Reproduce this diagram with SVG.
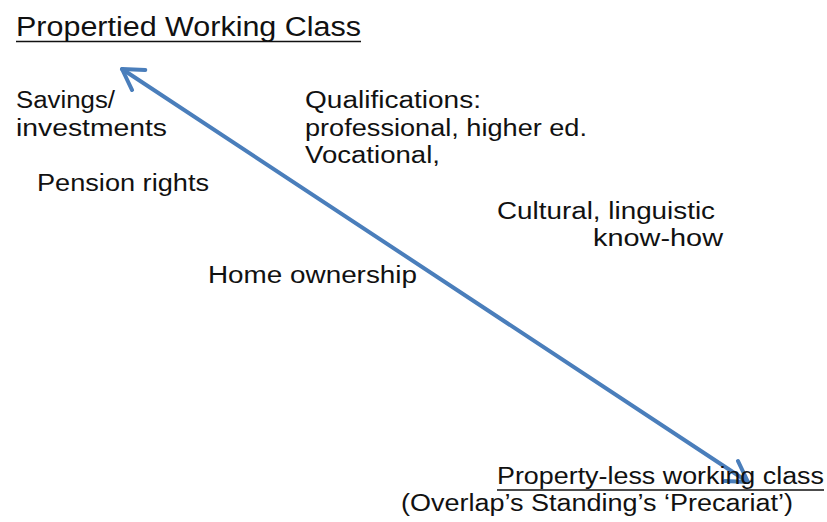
<svg xmlns="http://www.w3.org/2000/svg" width="827" height="522" viewBox="0 0 827 522">
  <style>
    .t { font-family: "Liberation Sans", "Open Sans", sans-serif; font-size: 23.5px; fill: #111; }
    .h { font-size: 27px; }
    .ul { stroke: #111; stroke-width: 1.6; }
    .arrow { stroke: #4a7ebb; stroke-width: 4; fill: none; stroke-linecap: round; }
  </style>
  <defs>
    <marker id="head" viewBox="0 0 12 12" refX="10.5" refY="6" markerWidth="7.5" markerHeight="7.5" orient="auto-start-reverse" markerUnits="strokeWidth">
      <path d="M2.5,1.2 L10.5,6 L2.5,10.8" fill="none" stroke="#4a7ebb" stroke-width="1.6" stroke-linecap="round" stroke-linejoin="round"/>
    </marker>
  </defs>
  <rect width="827" height="522" fill="#ffffff"/>

  <g id="connectors">
    <line class="arrow" x1="122" y1="69" x2="748" y2="482" marker-start="url(#head)" marker-end="url(#head)"/>
  </g>

  <g id="propertied">
    <text class="t h" x="16" y="36" textLength="345" lengthAdjust="spacingAndGlyphs">Propertied Working Class</text>
    <line class="ul" x1="16" y1="41.5" x2="361" y2="41.5"/>
  </g>

  <g id="savings">
    <text class="t" x="16" y="108" textLength="99" lengthAdjust="spacingAndGlyphs">Savings/</text>
    <text class="t" x="16" y="136" textLength="151" lengthAdjust="spacingAndGlyphs">investments</text>
  </g>

  <g id="pension">
    <text class="t" x="37" y="191" textLength="172" lengthAdjust="spacingAndGlyphs">Pension rights</text>
  </g>

  <g id="qualifications">
    <text class="t" x="305" y="108" textLength="176" lengthAdjust="spacingAndGlyphs">Qualifications:</text>
    <text class="t" x="305" y="136" textLength="282" lengthAdjust="spacingAndGlyphs">professional, higher ed.</text>
    <text class="t" x="305" y="163" textLength="135" lengthAdjust="spacingAndGlyphs">Vocational,</text>
  </g>

  <g id="cultural">
    <text class="t" x="497" y="219" textLength="218" lengthAdjust="spacingAndGlyphs">Cultural, linguistic</text>
    <text class="t" x="593" y="246" textLength="130" lengthAdjust="spacingAndGlyphs">know-how</text>
  </g>

  <g id="home">
    <text class="t" x="208" y="283" textLength="209" lengthAdjust="spacingAndGlyphs">Home ownership</text>
  </g>

  <g id="propertyless">
    <text class="t" x="497" y="484" textLength="327" lengthAdjust="spacingAndGlyphs">Property-less working class</text>
    <line class="ul" x1="497" y1="490" x2="824" y2="490"/>
    <text class="t" x="401" y="511" textLength="392" lengthAdjust="spacingAndGlyphs">(Overlap’s Standing’s ‘Precariat’)</text>
  </g>
</svg>
